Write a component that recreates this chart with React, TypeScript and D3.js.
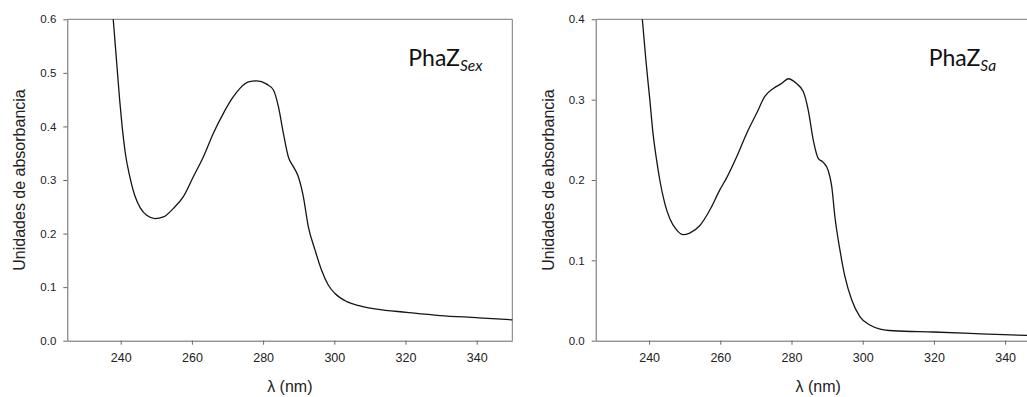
import React, { useEffect, useRef } from 'react';
import * as d3 from 'd3';

// PhaZ Sex spectrum
const sexWavelength = [237.9, 238.5, 239.1, 239.7, 240.4, 241.3, 242.6, 244, 245.5, 247.3, 249.6, 252, 254.8, 257.6, 260.4, 263.2, 266, 268.8, 271.6, 273.5, 275.9, 278.2, 281, 282.9, 284.3, 285.7, 287.1, 288.5, 289.9, 291.3, 292.7, 294.6, 296.4, 298.3, 300.2, 303.5, 307.2, 311.9, 320.3, 329.7, 340, 350];
const sexAbsorbance = [0.6, 0.55, 0.5, 0.45, 0.4, 0.35, 0.305, 0.27, 0.248, 0.234, 0.228, 0.231, 0.247, 0.269, 0.306, 0.343, 0.387, 0.424, 0.455, 0.471, 0.483, 0.485, 0.479, 0.468, 0.437, 0.387, 0.343, 0.325, 0.306, 0.269, 0.213, 0.169, 0.132, 0.104, 0.088, 0.073, 0.065, 0.059, 0.053, 0.047, 0.043, 0.039];

// PhaZ Sa spectrum
const saWavelength = [238.1, 239.1, 240.2, 241.1, 242.1, 243, 244.4, 245.8, 247.7, 249.6, 251.4, 254.2, 257.1, 259.9, 261.7, 264.6, 267.4, 270.2, 272.5, 274.9, 277.2, 279.1, 281.4, 283.3, 284.7, 286.1, 287.5, 288.9, 290.3, 291.3, 292.2, 293.6, 295, 296.9, 299.2, 302, 304.9, 308.6, 319.9, 330.2, 339.6, 350];
const saAbsorbance = [0.4, 0.349, 0.3, 0.258, 0.225, 0.2, 0.171, 0.152, 0.138, 0.132, 0.134, 0.143, 0.163, 0.188, 0.202, 0.229, 0.258, 0.283, 0.304, 0.314, 0.32, 0.326, 0.32, 0.31, 0.287, 0.25, 0.227, 0.222, 0.212, 0.192, 0.154, 0.113, 0.08, 0.051, 0.03, 0.0195, 0.0145, 0.0124, 0.0108, 0.0091, 0.0075, 0.006];

const xDomain = [225, 350];
const xTicks = [240, 260, 280, 300, 320, 340];
const sexYTicks = [0, 0.1, 0.2, 0.3, 0.4, 0.5, 0.6];
const saYTicks = [0, 0.1, 0.2, 0.3, 0.4];

const xTitle = 'λ (nm)';
const yTitle = 'Unidades de absorbancia';

const W = 445;
const H = 321.4;
const TOP = 19.3;

type PanelProps = {
    left: number;
    xs: number[];
    ys: number[];
    yTicks: number[];
    label: string;
    sub: string;
    labelX: number;
};

const Panel = ({ left, xs, ys, yTicks, label, sub, labelX }: PanelProps) => {
    const gRef = useRef<SVGGElement>(null);

    useEffect(() => {
        const g = d3.select(gRef.current);
        g.selectAll('*').remove();

        const x = d3.scaleLinear().domain(xDomain).range([0, W]);
        const y = d3.scaleLinear().domain([0, yTicks[yTicks.length - 1]]).range([H, 0]);

        // frame (top + right)
        g.append('path')
            .attr('d', `M0,0H${W}V${H}`)
            .attr('fill', 'none')
            .attr('stroke', '#777')
            .attr('stroke-width', 1);

        const yAxis = g.append('g')
            .call(d3.axisLeft(y).tickValues(yTicks).tickFormat(d3.format('.1f')).tickSize(4).tickSizeOuter(0).tickPadding(7));
        const xAxis = g.append('g')
            .attr('transform', `translate(0,${H})`)
            .call(d3.axisBottom(x).tickValues(xTicks).tickFormat(d3.format('d')).tickSize(4).tickSizeOuter(0).tickPadding(8));

        [yAxis, xAxis].forEach(a => {
            a.select('.domain').attr('stroke', '#666');
            a.selectAll('.tick line').attr('stroke', '#666');
            a.selectAll('text').attr('fill', '#222').style('font-family', '"Liberation Sans", Arial, sans-serif');
        });
        yAxis.selectAll('text').style('font-size', '11.5px');
        xAxis.selectAll('text').style('font-size', '12.5px');

        const pts = xs.map((v, i) => [v, ys[i]] as [number, number]);
        const line = d3.line<[number, number]>()
            .x(d => x(d[0]))
            .y(d => y(d[1]))
            .curve(d3.curveMonotoneX);

        g.append('path')
            .datum(pts)
            .attr('d', line)
            .attr('fill', 'none')
            .attr('stroke', '#151515')
            .attr('stroke-width', 1.3);

        g.append('text')
            .attr('x', W / 2)
            .attr('y', H + 51)
            .attr('text-anchor', 'middle')
            .style('font-family', '"Liberation Sans", Arial, sans-serif')
            .style('font-size', '16px')
            .attr('fill', '#222')
            .text(xTitle);

        g.append('text')
            .attr('transform', 'rotate(-90)')
            .attr('x', -H / 2)
            .attr('y', -42)
            .attr('text-anchor', 'middle')
            .style('font-family', '"Liberation Sans", Arial, sans-serif')
            .style('font-size', '16px')
            .attr('fill', '#222')
            .text(yTitle);

        const t = g.append('text')
            .attr('x', labelX)
            .attr('y', 46.4)
            .style('font-family', 'Lato, "Open Sans", sans-serif')
            .style('font-size', '23px')
            .attr('fill', '#111');
        t.append('tspan').text(label);
        t.append('tspan')
            .attr('dy', 5)
            .style('font-size', '15.5px')
            .style('font-style', 'italic')
            .text(sub);
    }, [xs, ys, yTicks, label, sub, labelX]);

    return <g ref={gRef} transform={`translate(${left},${TOP})`} />;
};

export default function App() {
    return (
        <svg
            width={1027}
            height={397}
            style={{ position: 'absolute', left: 0, top: 0, background: '#fff' }}
        >
            <Panel left={67.3} xs={sexWavelength} ys={sexAbsorbance} yTicks={sexYTicks} label="PhaZ" sub="Sex" labelX={341} />
            <Panel left={595.7} xs={saWavelength} ys={saAbsorbance} yTicks={saYTicks} label="PhaZ" sub="Sa" labelX={333} />
        </svg>
    );
}
